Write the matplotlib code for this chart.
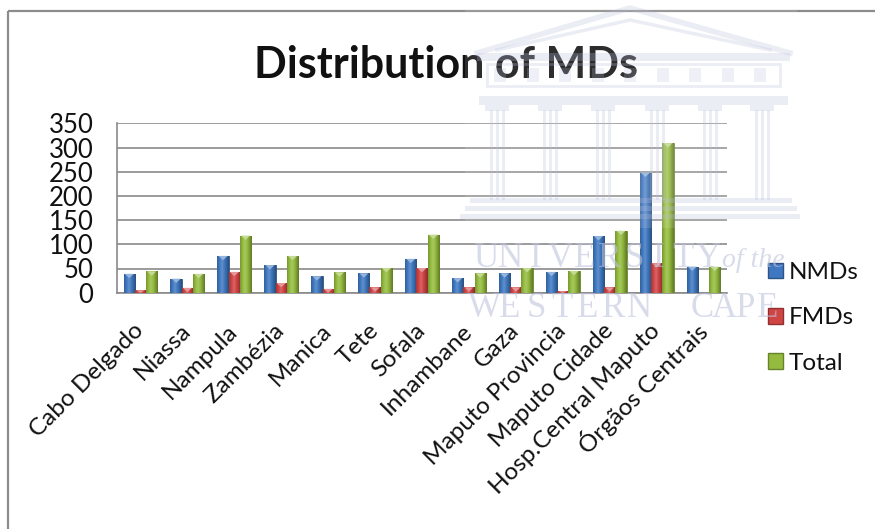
import numpy as np
import matplotlib
matplotlib.use("Agg")
import matplotlib.pyplot as plt
from matplotlib.patches import Rectangle, Polygon, Patch
from matplotlib.colors import to_rgb

plt.rcParams['font.family'] = ['Lato', 'DejaVu Sans']

categories = ["Cabo Delgado", "Niassa", "Nampula", "Zambézia", "Manica", "Tete",
              "Sofala", "Inhambane", "Gaza", "Maputo Provincia", "Maputo Cidade",
              "Hosp.Central Maputo", "Órgãos Centrais"]
nmds = [39, 29, 76, 57, 34, 40, 70, 30, 40, 43, 117, 248, 54]
fmds = [5, 10, 43, 20, 8, 11, 51, 11, 11, 3, 11, 61, 0]
total = [44, 39, 118, 76, 42, 51, 120, 40, 51, 45, 128, 309, 54]
series_names = ["NMDs", "FMDs", "Total"]
series_colors = ["#3f78c0", "#d04444", "#94bb3e"]
yticks = [0, 50, 100, 150, 200, 250, 300, 350]

W, H = 875, 529
fig = plt.figure(figsize=(W / 100, H / 100), dpi=100)
fig.patch.set_facecolor("white")

ax = fig.add_axes([117 / W, 1 - 292.7 / H, (727 - 117) / W, (292.7 - 123.3) / H])
ax.set_facecolor("none")


def mix(c, other, t):
    c = np.array(to_rgb(c)); o = np.array(to_rgb(other))
    return c * (1 - t) + o * t


def shaded_bar(rect, color):
    x0, y0 = rect.get_x(), rect.get_y()
    w, h = rect.get_width(), rect.get_height()
    if h <= 0:
        return
    u = np.linspace(0, 1, 64)
    img = np.zeros((1, 64, 3))
    for i, t in enumerate(u):
        d = abs(t - 0.42) / 0.58
        if d < 0.35:
            img[0, i] = mix(color, "white", 0.18 * (1 - d / 0.35))
        else:
            img[0, i] = mix(color, "black", 0.35 * (d - 0.35) / 0.65)
    im = ax.imshow(img, extent=[x0, x0 + w, y0, y0 + h], aspect="auto",
                   zorder=3, interpolation="bilinear")
    im.set_clip_path(rect)
    tri_h = min(9, h)
    ax.add_patch(Polygon([(x0 + w * 0.1, y0 + h), (x0 + w * 0.9, y0 + h),
                          (x0 + w * 0.5, y0 + h - tri_h)], closed=True,
                         facecolor=mix(color, "white", 0.45), edgecolor="none",
                         zorder=4))


x = np.arange(len(categories))
bw = 0.24
for k, (vals, col) in enumerate(zip([nmds, fmds, total], series_colors)):
    bars = ax.bar(x + (k - 1) * bw, vals, bw, color=col,
                  edgecolor=mix(col, "black", 0.3), linewidth=0.6, zorder=3)
    for r in bars:
        shaded_bar(r, col)

ax.set_xlim(-0.5, len(categories) - 0.5)
ax.set_ylim(0, 350)
ax.set_yticks(yticks)
ax.set_yticklabels([str(v) for v in yticks], fontsize=18.5, color="#111111")
ax.yaxis.grid(True, color="#8a8a8a", linewidth=1.2)
ax.set_axisbelow(True)
ax.tick_params(axis="both", length=0)
ax.tick_params(axis="y", pad=17)
ax.set_xticks(x)
ax.set_xticklabels(categories, rotation=45, ha="right", va="center",
                   rotation_mode="anchor", fontsize=17.5, color="#111111")
ax.tick_params(axis="x", pad=25)
for s in ["top", "right"]:
    ax.spines[s].set_visible(False)
for s in ["left", "bottom"]:
    ax.spines[s].set_color("#8a8a8a")
    ax.spines[s].set_linewidth(1.2)

fig.text(446 / W, 1 - 78 / H, "Distribution of MDs", ha="center",
         va="baseline", fontsize=31, fontweight="bold", color="#111111")

handles = [Patch(facecolor=c, edgecolor=mix(c, "black", 0.3)) for c in series_colors]
leg = fig.legend(handles, series_names, loc="upper left",
                 bbox_to_anchor=(756 / W, 1 - 250 / H), frameon=False,
                 fontsize=17.5, handlelength=0.6, handleheight=0.6,
                 handletextpad=0.25, labelspacing=1.0, borderpad=0)
for t in leg.get_texts():
    t.set_color("#111111")

# overlay in pixel coordinates: outer frame and the faint crest watermark
ov = fig.add_axes([0, 0, 1, 1], zorder=10)
ov.set_xlim(0, W)
ov.set_ylim(H, 0)
ov.axis("off")
ov.patch.set_alpha(0)
ov.add_patch(Rectangle((8, 11), 900, 600, fill=False, edgecolor="#8c8c8c",
                       linewidth=1.6))

wm = "#b8bddb"
wa = 0.27
ov.add_patch(Rectangle((465, 6), 332, 222, facecolor="white", alpha=0.12,
                       edgecolor="none"))
ov.plot([477, 630, 790], [53, 8, 53], color=wm, alpha=wa, lw=4,
        solid_joinstyle="miter")
ov.plot([497, 630, 770], [50, 20, 50], color=wm, alpha=wa, lw=2.5,
        solid_joinstyle="miter")
ov.add_patch(Rectangle((477, 53), 313, 8, facecolor=wm, alpha=wa, edgecolor="none"))
ov.add_patch(Rectangle((487, 64), 293, 22, facecolor="none", edgecolor=wm,
                       alpha=wa, lw=2))
for bx in np.linspace(500, 760, 9):
    ov.add_patch(Rectangle((bx - 6, 68), 12, 14, facecolor=wm, alpha=wa * 0.8,
                           edgecolor="none"))
ov.add_patch(Rectangle((479, 96), 309, 9, facecolor=wm, alpha=wa, edgecolor="none"))
for cx in [497, 550, 603, 657, 710, 762]:
    ov.add_patch(Rectangle((cx - 12, 105), 24, 6, facecolor=wm, alpha=wa,
                           edgecolor="none"))
    for dx in (-6, 0, 6):
        ov.plot([cx + dx, cx + dx], [111, 198], color=wm, alpha=wa, lw=2.2)
for (sx, sy, sw) in [(470, 198, 322), (465, 206, 332), (460, 214, 340)]:
    ov.add_patch(Rectangle((sx, sy), sw, 5, facecolor=wm, alpha=wa, edgecolor="none"))

serif = ["Liberation Serif", "DejaVu Serif"]
tc = "#bfc3dc"


def spaced(word, x0, x1, y, size):
    centers = np.linspace(x0, x1, len(word))
    for ch, cx in zip(word, centers):
        ov.text(cx, y, ch, family=serif, fontsize=size, color=tc, alpha=0.6,
                ha="center", va="baseline")


spaced("UNIVERSITY", 486, 708, 267, 25)
ov.text(722, 267, "of the", family=serif, fontsize=20, style="italic", color=tc,
        alpha=0.6, ha="left", va="baseline")
spaced("WESTERN", 484, 640, 317, 25)
spaced("CAPE", 702, 768, 317, 25)

fig.savefig("out.png", dpi=100, facecolor="white")
